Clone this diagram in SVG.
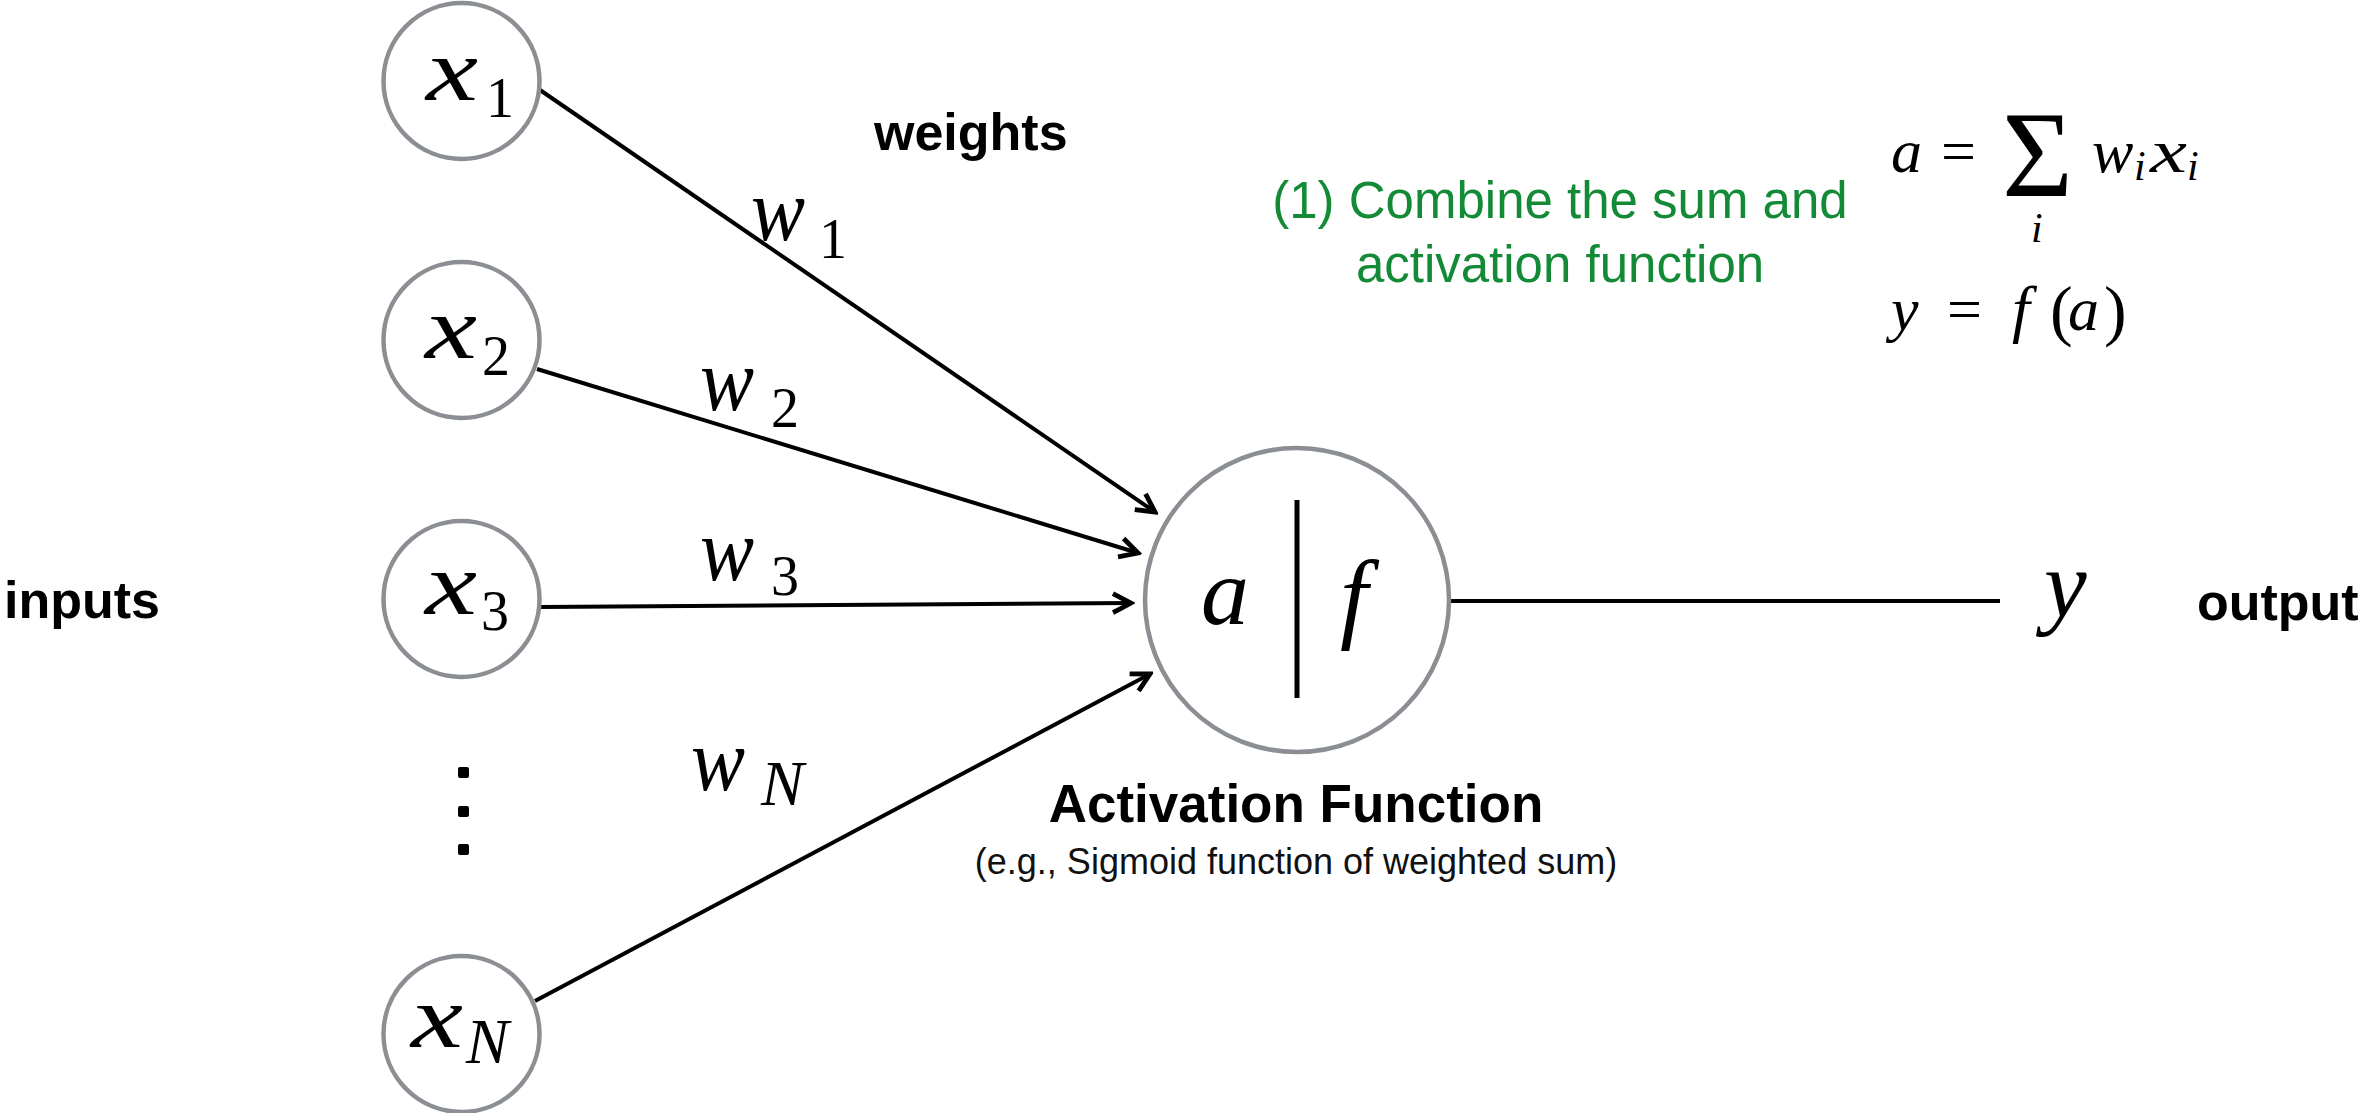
<svg xmlns="http://www.w3.org/2000/svg" width="2361" height="1113" viewBox="0 0 2361 1113">
<defs>
<style>
.node{fill:#fff;stroke:#8b8e92;stroke-width:4.5}
.conn{stroke:#000;stroke-width:4;fill:none}
.m{font-family:"Liberation Serif","Times New Roman",serif;font-style:italic;fill:#000}
.r{font-family:"Liberation Serif","Times New Roman",serif;font-style:normal;fill:#000}
.lbl{font-family:"Liberation Sans",Arial,sans-serif;font-weight:bold;fill:#000}
.note{font-family:"Liberation Sans",Arial,sans-serif;fill:#138a36}
.sub{font-family:"Liberation Sans",Arial,sans-serif;fill:#111}
</style>
<marker id="arr" markerUnits="userSpaceOnUse" markerWidth="24" markerHeight="24" viewBox="0 0 20 20" refX="17" refY="10" orient="auto">
<path d="M2,2 L17,10 L2,18" fill="none" stroke="#000" stroke-width="4" stroke-linejoin="miter"/>
</marker>
</defs>
<rect width="2361" height="1113" fill="#fff"/>

<g id="connectors">
<line class="conn" x1="540" y1="90" x2="1155" y2="512" marker-end="url(#arr)"/>
<line class="conn" x1="537" y1="369" x2="1138" y2="553" marker-end="url(#arr)"/>
<line class="conn" x1="541" y1="607" x2="1131" y2="603" marker-end="url(#arr)"/>
<line class="conn" x1="535" y1="1001" x2="1150" y2="674" marker-end="url(#arr)"/>
<line class="conn" x1="1450" y1="601" x2="2000" y2="601"/>
</g>

<g id="node-x1">
<circle class="node" cx="461.5" cy="81" r="78"/>
<text class="m" x="426" y="100" font-size="88" textLength="52" lengthAdjust="spacingAndGlyphs">x</text>
<text class="r" x="486" y="117" font-size="56">1</text>
</g>
<g id="node-x2">
<circle class="node" cx="461.5" cy="340" r="78"/>
<text class="m" x="425" y="358" font-size="88" textLength="52" lengthAdjust="spacingAndGlyphs">x</text>
<text class="r" x="482" y="375" font-size="56">2</text>
</g>
<g id="node-x3">
<circle class="node" cx="461.5" cy="599" r="78"/>
<text class="m" x="425" y="614" font-size="88" textLength="52" lengthAdjust="spacingAndGlyphs">x</text>
<text class="r" x="481" y="630" font-size="56">3</text>
</g>
<g id="ellipsis">
<rect x="458" y="767" width="11" height="11" rx="2" fill="#000"/>
<rect x="458" y="806" width="11" height="11" rx="2" fill="#000"/>
<rect x="458" y="844" width="11" height="11" rx="2" fill="#000"/>
</g>
<g id="node-xN">
<circle class="node" cx="461.5" cy="1034" r="78"/>
<text class="m" x="411" y="1047" font-size="88" textLength="52" lengthAdjust="spacingAndGlyphs">x</text>
<text class="m" x="466" y="1063" font-size="64">N</text>
</g>

<g id="weights">
<text class="m" x="751" y="240" font-size="88" textLength="54" lengthAdjust="spacingAndGlyphs">w</text>
<text class="r" x="819" y="258" font-size="56">1</text>
<text class="m" x="700" y="410" font-size="88" textLength="54" lengthAdjust="spacingAndGlyphs">w</text>
<text class="r" x="771" y="427" font-size="56">2</text>
<text class="m" x="700" y="580" font-size="88" textLength="54" lengthAdjust="spacingAndGlyphs">w</text>
<text class="r" x="771" y="595" font-size="56">3</text>
<text class="m" x="691" y="790" font-size="88" textLength="54" lengthAdjust="spacingAndGlyphs">w</text>
<text class="m" x="761" y="805" font-size="64">N</text>
</g>

<g id="node-neuron">
<circle class="node" cx="1297" cy="600" r="152"/>
<line x1="1297" y1="500" x2="1297" y2="698" stroke="#000" stroke-width="5"/>
<text class="m" x="1201" y="624" font-size="96">a</text>
<text class="m" x="1340" y="630" font-size="100">f</text>
</g>

<g id="output-y">
<text class="m" x="2044" y="617" font-size="96">y</text>
</g>

<g id="labels">
<text class="lbl" x="4" y="618" font-size="52">inputs</text>
<text class="lbl" x="2197" y="620" font-size="52">output</text>
<text class="lbl" x="874" y="150" font-size="52">weights</text>
<text class="lbl" x="1296" y="822" font-size="53" text-anchor="middle">Activation Function</text>
<text class="sub" x="1296" y="874" font-size="36" text-anchor="middle">(e.g., Sigmoid function of weighted sum)</text>
<text class="note" x="1560" y="218" font-size="51" text-anchor="middle">(1) Combine the sum and</text>
<text class="note" x="1560" y="282" font-size="51" text-anchor="middle">activation function</text>
</g>

<g id="formulas">
<text class="m" x="1891" y="172" font-size="62">a</text>
<text class="r" x="1941" y="172" font-size="62">=</text>
<text class="r" x="2002" y="196" font-size="122">Σ</text>
<text class="m" x="2031" y="242" font-size="42">i</text>
<text class="m" x="2092" y="172" font-size="62">w</text>
<text class="m" x="2134" y="180" font-size="42">i</text>
<text class="m" x="2150" y="172" font-size="62" textLength="37" lengthAdjust="spacingAndGlyphs">x</text>
<text class="m" x="2187" y="180" font-size="42">i</text>
<text class="m" x="1891" y="330" font-size="62">y</text>
<text class="r" x="1947" y="330" font-size="62">=</text>
<text class="m" x="2012" y="330" font-size="64">f</text>
<text class="r" x="2050" y="333" font-size="68">(</text>
<text class="m" x="2068" y="330" font-size="62">a</text>
<text class="r" x="2104" y="333" font-size="68">)</text>
</g>
</svg>
